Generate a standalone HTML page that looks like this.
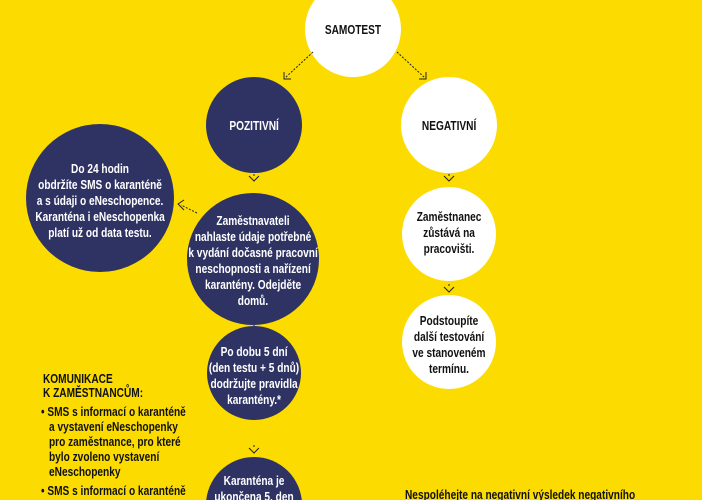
<!DOCTYPE html>
<html><head><meta charset="utf-8"><style>
html,body{margin:0;width:702px;height:500px;overflow:hidden;background:#FCDC00;}
svg{display:block}
text{font-family:"Liberation Sans Narrow","Liberation Sans",sans-serif;font-weight:bold;font-size:13px;transform-box:fill-box;transform:scaleX(0.78);}
.w{fill:#fff;text-anchor:middle;transform-origin:center}
.b{fill:#111;text-anchor:middle;transform-origin:center}
.l{fill:#111;transform-origin:left}
.ar{stroke:#222;stroke-width:1;fill:none}
.dot{stroke:#222;stroke-width:1;stroke-dasharray:2 1.5;fill:none}
</style></head><body>
<svg width="702" height="500" viewBox="0 0 702 500">
<circle cx="353" cy="29" r="48" fill="#fff"/>
<text class="b" x="353" y="34" font-size="15">SAMOTEST</text>
<line class="dot" x1="313" y1="52" x2="285" y2="78"/>
<path class="ar" d="M284 72 L284 79 L291 79"/>
<line class="dot" x1="397" y1="52" x2="425" y2="78"/>
<path class="ar" d="M426 72 L426 79 L419 79"/>

<circle cx="254" cy="125" r="48" fill="#2E3363"/>
<text class="w" x="254" y="130" font-size="15">POZITIVNÍ</text>
<circle cx="449" cy="125" r="48" fill="#fff"/>
<text class="b" x="449" y="130" font-size="15">NEGATIVNÍ</text>

<path class="ar" d="M249 176 L254 181 L259 176 M254 174 v2"/>
<path class="ar" d="M444 176 L449 181 L454 176 M449 174 v2"/>

<circle cx="100" cy="198" r="74" fill="#2E3363"/>
<text class="w" x="100" y="173">Do 24 hodin</text>
<text class="w" x="100" y="189">obdržíte SMS o karanténě</text>
<text class="w" x="100" y="205">a s údaji o eNeschopence.</text>
<text class="w" x="100" y="221">Karanténa i eNeschopenka</text>
<text class="w" x="100" y="237">platí už od data testu.</text>

<circle cx="253" cy="259" r="66" fill="#2E3363"/>
<text class="w" x="253" y="225">Zaměstnavateli</text>
<text class="w" x="253" y="241">nahlaste údaje potřebné</text>
<text class="w" x="253" y="257">k vydání dočasné pracovní</text>
<text class="w" x="253" y="273">neschopnosti a nařízení</text>
<text class="w" x="253" y="289">karantény. Odejděte</text>
<text class="w" x="253" y="305">domů.</text>
<line class="dot" x1="197" y1="213" x2="181" y2="205"/>
<path class="ar" d="M184 200 L178 204 L184 210"/>

<path class="ar" d="M249 328 L254 333 L259 328 M254 325 v2"/>

<circle cx="254" cy="373" r="47" fill="#2E3363"/>
<text class="w" x="254" y="356">Po dobu 5 dní</text>
<text class="w" x="254" y="372">(den testu + 5 dnů)</text>
<text class="w" x="254" y="388">dodržujte pravidla</text>
<text class="w" x="254" y="404">karantény.*</text>

<path class="ar" d="M249 448 L254 453 L259 448 M254 445 v2"/>
<circle cx="254" cy="505" r="48" fill="#2E3363"/>
<text class="w" x="254" y="485">Karanténa je</text>
<text class="w" x="254" y="501">ukončena 5. den</text>

<circle cx="449" cy="234" r="47" fill="#fff"/>
<text class="b" x="449" y="221">Zaměstnanec</text>
<text class="b" x="449" y="237">zůstává na</text>
<text class="b" x="449" y="253">pracovišti.</text>
<path class="ar" d="M444 287 L449 292 L454 287 M449 284 v2"/>
<circle cx="449" cy="342" r="47" fill="#fff"/>
<text class="b" x="449" y="325">Podstoupíte</text>
<text class="b" x="449" y="341">další testování</text>
<text class="b" x="449" y="357">ve stanoveném</text>
<text class="b" x="449" y="373">termínu.</text>

<text class="l" x="43" y="383">KOMUNIKACE</text>
<text class="l" x="43" y="397">K ZAMĚSTNANCŮM:</text>
<text class="l" x="41" y="416">• SMS s informací o karanténě</text>
<text class="l" x="49" y="431">a vystavení eNeschopenky</text>
<text class="l" x="49" y="446">pro zaměstnance, pro které</text>
<text class="l" x="49" y="461">bylo zvoleno vystavení</text>
<text class="l" x="49" y="476">eNeschopenky</text>
<text class="l" x="41" y="495">• SMS s informací o karanténě</text>
<text class="l" x="405" y="499">Nespoléhejte na negativní výsledek negativního</text>
</svg>
</body></html>
